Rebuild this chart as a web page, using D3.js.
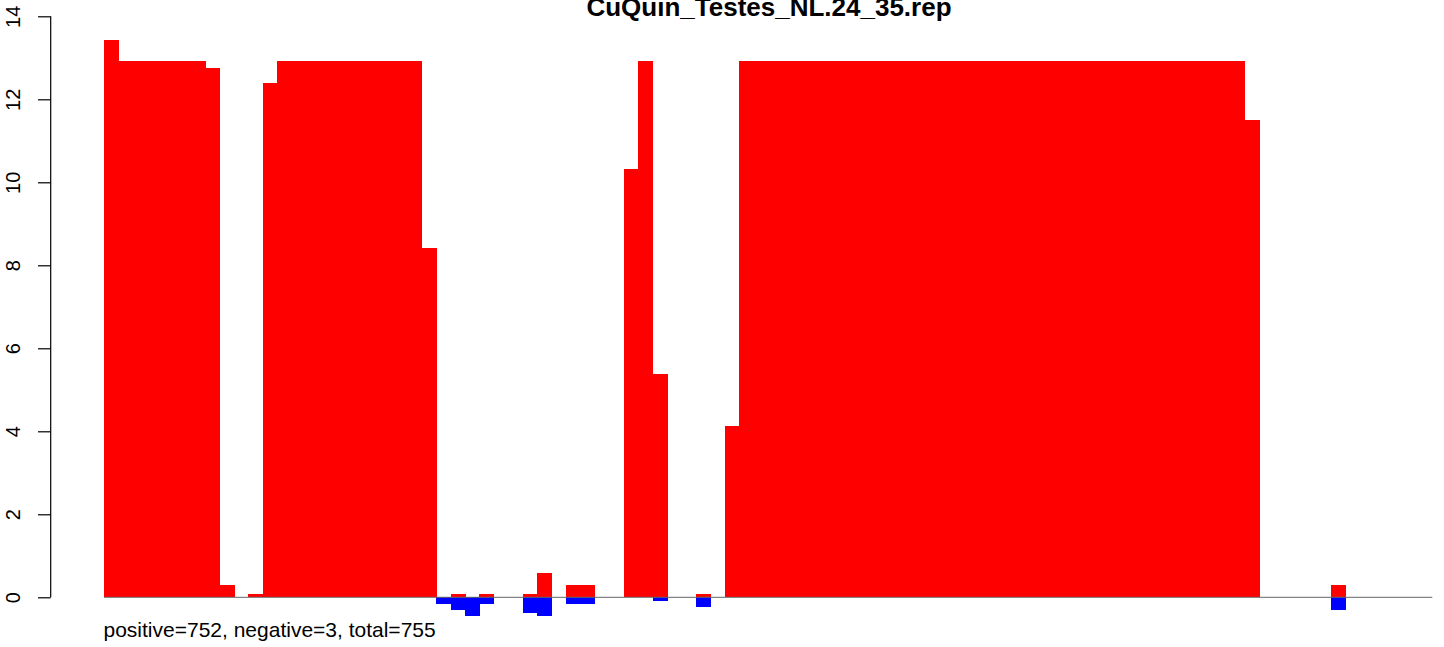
<!DOCTYPE html>
<html>
<head>
<meta charset="utf-8">
<script src="https://cdn.jsdelivr.net/npm/d3@7"></script>
<style>
  body { margin: 0; background: #fff; }
  svg { display: block; font-family: "Liberation Sans", Arial, Helvetica, sans-serif; }
</style>
</head>
<body>
<svg id="chart" width="1444" height="647"></svg>
<script>
// ---- data ----
const titleText = "CuQuin_Testes_NL.24_35.rep";
const footText = "positive=752, negative=3, total=755";
const yTicks = [0, 2, 4, 6, 8, 10, 12, 14];

// 92 positions; positive (red) and negative (blue) values
const positives = [
  13.43, 12.92, 12.92, 12.92, 12.92, 12.92, 12.92, 12.75, 0.30, 0,
  0.08, 12.39, 12.92, 12.92, 12.92, 12.92, 12.92, 12.92, 12.92, 12.92,
  12.92, 12.92, 8.42, 0, 0.08, 0, 0.08, 0, 0, 0.08,
  0.59, 0, 0.30, 0.30, 0, 0, 10.32, 12.92, 5.38, 0,
  0, 0.08, 0, 4.13, 12.92, 12.92, 12.92, 12.92, 12.92, 12.92,
  12.92, 12.92, 12.92, 12.92, 12.92, 12.92, 12.92, 12.92, 12.92, 12.92,
  12.92, 12.92, 12.92, 12.92, 12.92, 12.92, 12.92, 12.92, 12.92, 12.92,
  12.92, 12.92, 12.92, 12.92, 12.92, 12.92, 12.92, 12.92, 12.92, 11.50,
  0, 0, 0, 0, 0, 0.30, 0, 0, 0, 0,
  0, 0
];
const negatives = [
  0, 0, 0, 0, 0, 0, 0, 0, 0, 0,
  0, 0, 0, 0, 0, 0, 0, 0, 0, 0,
  0, 0, 0, -0.16, -0.31, -0.45, -0.16, 0, 0, -0.37,
  -0.45, 0, -0.16, -0.16, 0, 0, 0, 0, -0.09, 0,
  0, -0.23, 0, 0, 0, 0, 0, 0, 0, 0,
  0, 0, 0, 0, 0, 0, 0, 0, 0, 0,
  0, 0, 0, 0, 0, 0, 0, 0, 0, 0,
  0, 0, 0, 0, 0, 0, 0, 0, 0, 0,
  0, 0, 0, 0, 0, -0.31, 0, 0, 0, 0,
  0, 0
];
const positions = d3.range(positives.length);

// ---- layout ----
const svg = d3.select("#chart");
const x = d3.scaleBand().domain(positions).range([104, 1432.3]).padding(0);
const y = d3.scaleLinear().domain([0, 14]).range([597.3, 16.3]);

// red positive bars
svg.append("g").attr("shape-rendering", "crispEdges").selectAll("rect")
  .data(positions.filter(i => positives[i] > 0))
  .join("rect")
  .attr("x", i => x(i))
  .attr("width", x.bandwidth() + 0.6)
  .attr("y", i => y(positives[i]))
  .attr("height", i => y(0) - y(positives[i]))
  .attr("fill", "#ff0000");

// blue negative bars
svg.append("g").attr("shape-rendering", "crispEdges").selectAll("rect")
  .data(positions.filter(i => negatives[i] < 0))
  .join("rect")
  .attr("x", i => x(i))
  .attr("width", x.bandwidth() + 0.6)
  .attr("y", y(0))
  .attr("height", i => y(negatives[i]) - y(0))
  .attr("fill", "#0000ff");

// zero line
svg.append("line")
  .attr("x1", x.range()[0]).attr("x2", x.range()[1])
  .attr("y1", y(0)).attr("y2", y(0))
  .attr("stroke", "#666666").attr("stroke-width", 1);

// y axis
const axisG = svg.append("g").attr("transform", "translate(50.7,0)");
axisG.call(d3.axisLeft(y).tickValues(yTicks).tickSize(12.7).tickSizeOuter(0).tickFormat(d3.format("d")));
axisG.select(".domain").attr("stroke", "#000").attr("stroke-width", 1.2)
  .attr("d", `M0,${y(0)}V${y(14)}`);
axisG.selectAll(".tick line").attr("stroke", "#000").attr("stroke-width", 1.2);
axisG.selectAll(".tick text")
  .attr("font-size", 20)
  .attr("font-family", "Liberation Sans, Arial, sans-serif")
  .attr("fill", "#000")
  .attr("text-anchor", "middle")
  .attr("x", null).attr("dy", null)
  .attr("transform", "translate(-30.3,0) rotate(-90)")
  .attr("y", 0);

// title
svg.append("text")
  .attr("x", 769).attr("y", 15.5)
  .attr("text-anchor", "middle")
  .attr("font-size", 26).attr("font-weight", "bold")
  .attr("fill", "#000")
  .text(titleText);

// footer text
svg.append("text")
  .attr("x", 103.5).attr("y", 637)
  .attr("font-size", 21)
  .attr("fill", "#000")
  .text(footText);
</script>
</body>
</html>
